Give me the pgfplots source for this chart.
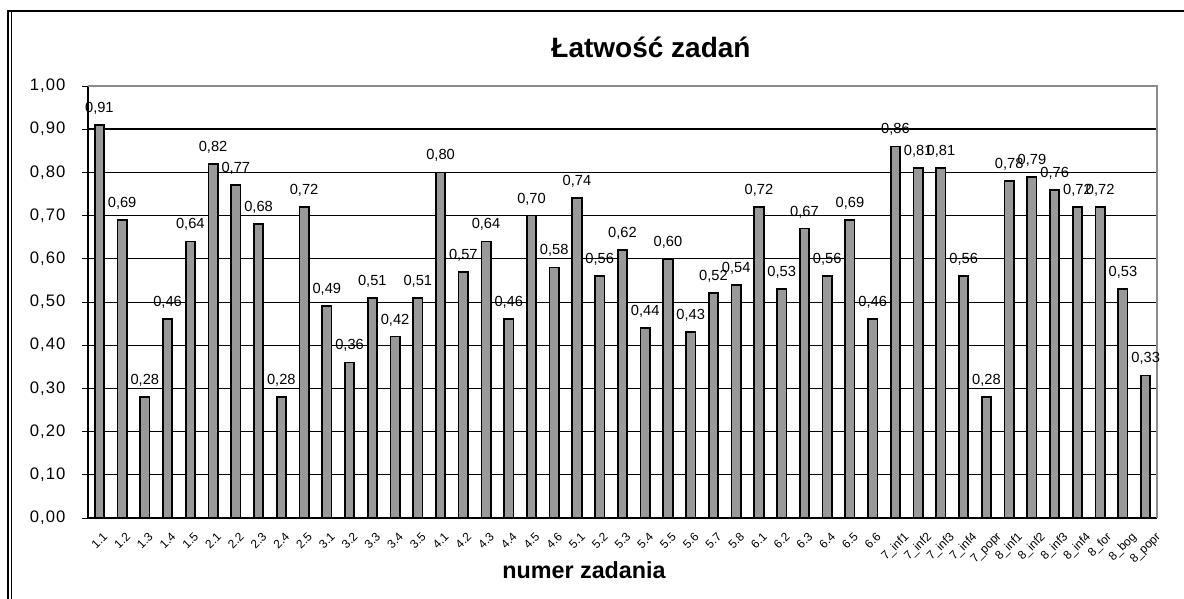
\documentclass[border=0pt]{standalone}
\usepackage{pgfplots}
\pgfplotsset{compat=1.18}
\usepackage{graphicx}
\usepackage{fontspec}
\setmainfont{Liberation Sans}
\newfontfamily\widefont[LetterSpace=6]{Liberation Sans}
\definecolor{barfill}{RGB}{153,153,153}
\definecolor{framegray}{RGB}{140,140,140}
\newcommand{\rl}[1]{\rotatebox{45}{#1}}
\pgfplotstableread{
x y
0 0.91
1 0.69
2 0.28
3 0.46
4 0.64
5 0.82
6 0.77
7 0.68
8 0.28
9 0.72
10 0.49
11 0.36
12 0.51
13 0.42
14 0.51
15 0.80
16 0.57
17 0.64
18 0.46
19 0.70
20 0.58
21 0.74
22 0.56
23 0.62
24 0.44
25 0.60
26 0.43
27 0.52
28 0.54
29 0.72
30 0.53
31 0.67
32 0.56
33 0.69
34 0.46
35 0.86
36 0.81
37 0.81
38 0.56
39 0.28
40 0.78
41 0.79
42 0.76
43 0.72
44 0.72
45 0.53
46 0.33
}\datatable
\begin{document}
\begin{tikzpicture}[x=0.75pt,y=0.75pt]
\useasboundingbox (0,0) rectangle (1184,599);
\draw[line width=1.6pt] (8,-5) -- (8,588) -- (1190,588);
\draw[line width=0.6pt] (11.5,-5) -- (11.5,586.5);
\node[font=\bfseries\fontsize{21}{23}\selectfont] at (651,552) {Łatwość zadań};
\node[font=\bfseries\fontsize{17.5}{19}\selectfont] at (584,29) {numer zadania};
\begin{axis}[
  at={(66pt,60.75pt)}, anchor=south west,
  width=801.75pt, height=324pt, scale only axis,
  xmin=-0.5, xmax=46.5, ymin=0, ymax=1,
  axis lines*=left,
  axis line style={black, line width=0.8pt},
  ytick={0,0.1,...,1.0},
  /pgf/number format/fixed,
  /pgf/number format/fixed zerofill,
  /pgf/number format/precision=2,
  /pgf/number format/use comma,
  /pgf/number format/assume math mode=true,
  yticklabel style={font=\widefont\fontsize{12.5}{14}\selectfont, xshift=-9pt},
  ymajorgrids, grid style={black, line width=0.6pt},
  extra y ticks={0.9}, extra y tick labels={}, extra y tick style={grid style={black, line width=1.4pt}, major tick length=0pt},
  xtick={0,...,46},
  xticklabels={\rl{1.1},\rl{1.2},\rl{1.3},\rl{1.4},\rl{1.5},\rl{2.1},\rl{2.2},\rl{2.3},\rl{2.4},\rl{2.5},\rl{3.1},\rl{3.2},\rl{3.3},\rl{3.4},\rl{3.5},\rl{4.1},\rl{4.2},\rl{4.3},\rl{4.4},\rl{4.5},\rl{4.6},\rl{5.1},\rl{5.2},\rl{5.3},\rl{5.4},\rl{5.5},\rl{5.6},\rl{5.7},\rl{5.8},\rl{6.1},\rl{6.2},\rl{6.3},\rl{6.4},\rl{6.5},\rl{6.6},\rl{7\_inf1},\rl{7\_inf2},\rl{7\_inf3},\rl{7\_inf4},\rl{7\_popr},\rl{8\_inf1},\rl{8\_inf2},\rl{8\_inf3},\rl{8\_inf4},\rl{8\_for},\rl{8\_bog},\rl{8\_popr}},
  xticklabel style={font=\fontsize{9}{10}\selectfont, anchor=north, inner sep=0pt, yshift=-5.5pt},
  x tick style={draw=none},
  minor xtick={-0.5,0.5,...,46.5},
  minor x tick style={black, line width=0.6pt},
  minor tick length=4.5pt,
  major tick length=4.5pt,
  tick align=outside,
  tick style={black, line width=0.6pt},
  clip=false,
  nodes near coords,
  nodes near coords style={font=\fontsize{11}{12}\selectfont, anchor=south, yshift=4pt},
]
\draw[framegray, line width=1.4pt] (rel axis cs:0,1) -- (rel axis cs:1,1) -- (rel axis cs:1,0);
\addplot[ybar, bar width=7pt, fill=barfill, draw=black, line width=1.3pt] table[x=x,y=y] {\datatable};
\end{axis}
\end{tikzpicture}
\end{document}
